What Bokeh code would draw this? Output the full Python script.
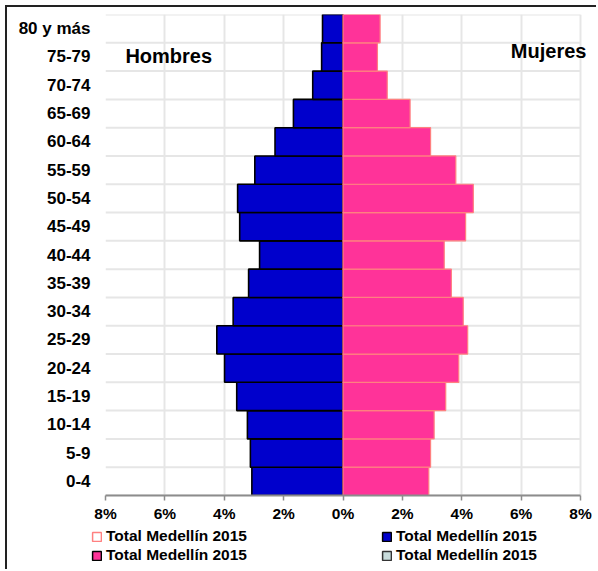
from bokeh.plotting import figure
from bokeh.models import (Range1d, FixedTicker, CustomJSTickFormatter, Legend, LegendItem,
                          Label, ColumnDataSource)
from bokeh.embed import file_html
from bokeh.resources import INLINE

categories = ["0-4", "5-9", "10-14", "15-19", "20-24", "25-29", "30-34", "35-39",
              "40-44", "45-49", "50-54", "55-59", "60-64", "65-69", "70-74", "75-79", "80 y más"]
hombres = [3.07, 3.12, 3.22, 3.58, 3.99, 4.25, 3.70, 3.18, 2.81, 3.48, 3.55, 2.97, 2.29, 1.67, 1.02, 0.72, 0.69]
mujeres = [2.89, 2.95, 3.07, 3.46, 3.90, 4.20, 4.05, 3.65, 3.41, 4.13, 4.39, 3.80, 2.95, 2.26, 1.49, 1.16, 1.25]
x_ticks = [-8, -6, -4, -2, 0, 2, 4, 6, 8]
legend_label = "Total Medellín 2015"

FONT = "Liberation Sans"

n = len(categories)
ypos = [i + 0.5 for i in range(n)]
src = ColumnDataSource(dict(y=ypos, h=[-v for v in hombres], m=mujeres, zero=[0] * n))

# frame: page x 105..592 ; -8..8 spans 105..580
px_per_unit = (580 - 105) / 16.0
x_end = 8 + (592 - 580) / px_per_unit

p = figure(width=591, height=518, output_backend="svg", toolbar_location=None,
           x_range=Range1d(-8, x_end), y_range=Range1d(0, n),
           min_border_left=98, min_border_right=6, min_border_top=7, min_border_bottom=30)
p.outline_line_color = None
p.background_fill_color = "white"
p.border_fill_color = "white"
p.styles = {"margin-left": "5px", "margin-top": "5px",
            "border-left": "2px solid #222", "border-top": "2px solid #222"}

# grids
p.xgrid.ticker = FixedTicker(ticks=x_ticks)
p.xgrid.grid_line_color = "#e6e6e6"
p.xgrid.grid_line_width = 2
p.ygrid.grid_line_color = None
p.segment(x0=[x_ticks[0]] * (n + 1), x1=[x_ticks[-1]] * (n + 1),
          y0=list(range(n + 1)), y1=list(range(n + 1)),
          line_color="#e6e6e6", line_width=2)

# bars
p.hbar(y="y", left="h", right="zero", height=1.0, source=src,
       fill_color="#0000CC", line_color="black", line_width=1.6)
p.hbar(y="y", left="zero", right="m", height=1.0, source=src,
       fill_color="#FF3399", line_color="#FF8080", line_width=1.2)

# x axis
p.xaxis.ticker = FixedTicker(ticks=x_ticks)
p.xaxis.bounds = (x_ticks[0], x_ticks[-1])
p.xaxis.formatter = CustomJSTickFormatter(code="return Math.abs(tick) + '%';")
p.xaxis.axis_line_color = "#8c8c8c"
p.xaxis.axis_line_width = 2
p.xaxis.major_tick_line_color = "#8c8c8c"
p.xaxis.major_tick_line_width = 1.5
p.xaxis.major_tick_out = 5
p.xaxis.major_tick_in = 0
p.xaxis.minor_tick_line_color = None
p.xaxis.major_label_standoff = 4
p.xaxis.major_label_text_font = FONT
p.xaxis.major_label_text_font_style = "bold"
p.xaxis.major_label_text_font_size = "15.5px"
p.xaxis.major_label_text_color = "black"

# y axis
p.yaxis.ticker = FixedTicker(ticks=ypos)
p.yaxis.major_label_overrides = {y: c for y, c in zip(ypos, categories)}
p.yaxis.axis_line_color = None
p.yaxis.major_tick_line_color = None
p.yaxis.minor_tick_line_color = None
p.yaxis.major_tick_out = 0
p.yaxis.major_tick_in = 0
p.yaxis.major_label_standoff = 15
p.yaxis.major_label_text_font = FONT
p.yaxis.major_label_text_font_style = "bold"
p.yaxis.major_label_text_font_size = "17px"
p.yaxis.major_label_text_color = "black"

# labels
p.add_layout(Label(x=-7.33, y=15.13, text="Hombres", text_font=FONT, text_font_style="bold",
                   text_font_size="20px", text_color="black", text_align="left"))
p.add_layout(Label(x=8.2, y=15.32, text="Mujeres", text_font=FONT, text_font_style="bold",
                   text_font_size="20px", text_color="black", text_align="right"))

# legend figure (separate root, below the chart)
lf = figure(width=591, height=46, output_backend="svg", toolbar_location=None,
            x_range=Range1d(0, 1), y_range=Range1d(0, 1),
            x_axis_location=None, y_axis_location=None,
            min_border_left=0, min_border_right=0, min_border_top=0, min_border_bottom=0)
lf.outline_line_color = None
lf.xgrid.grid_line_color = None
lf.ygrid.grid_line_color = None
lf.background_fill_color = "white"
lf.border_fill_color = "white"
lf.styles = {"margin-left": "5px", "border-left": "2px solid #222"}

nan = float("nan")
styles_lg = [("white", "#FF8080"), ("#FF3399", "black"), ("#0000CC", "black"), ("#C8DCDC", "#333333")]
rs = [lf.hbar(y="y", left="left", right="right", height=1,
              source=ColumnDataSource(dict(y=[nan], left=[nan], right=[nan])),
              fill_color=fc, line_color=lc, line_width=1.5) for fc, lc in styles_lg]

lg = Legend(items=[LegendItem(label=legend_label, renderers=[r]) for r in rs],
            location=(84, 4.5), orientation="vertical", ncols=2,
            glyph_width=11, glyph_height=11, label_height=19, label_width=275, label_standoff=4,
            spacing=0, padding=0, margin=0, border_line_color=None,
            background_fill_alpha=0,
            label_text_font=FONT, label_text_font_style="bold",
            label_text_font_size="15.5px", label_text_color="black")
lf.add_layout(lg)

open("out.html", "w").write(file_html([p, lf], INLINE))
